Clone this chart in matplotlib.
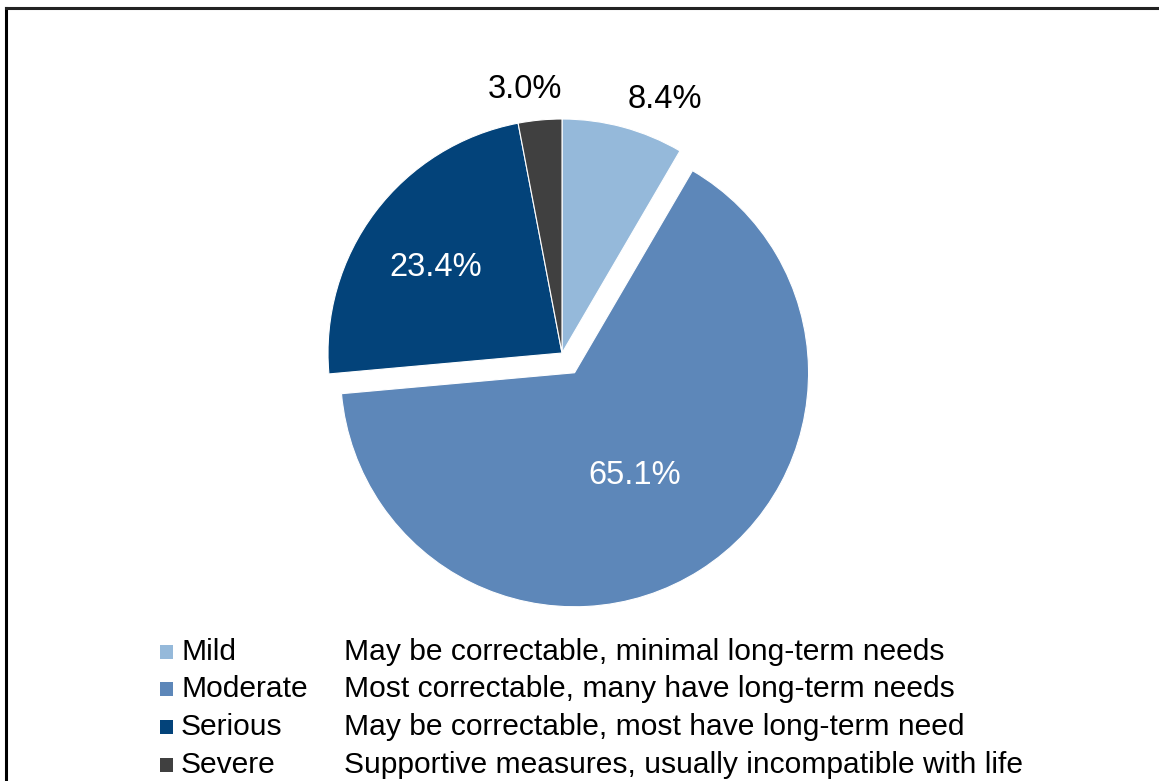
import matplotlib.pyplot as plt
import numpy as np
from matplotlib.patches import Rectangle
from matplotlib.lines import Line2D

plt.rcParams['font.family'] = ['Liberation Sans', 'DejaVu Sans']

categories = ['Mild', 'Moderate', 'Serious', 'Severe']
descriptions = ['May be correctable, minimal long-term needs',
                'Most correctable, many have long-term needs',
                'May be correctable, most have long-term need',
                'Supportive measures, usually incompatible with life']
shares = [8.4, 65.1, 23.4, 3.0]
colors = ['#95b9da', '#5d87b9', '#03437a', '#404040']
explode = [0, 0.1, 0, 0]
# label placement: distance from centre (radii) and angular nudge (deg)
label_dist = [1.17, 0.51, 0.65, 1.135]
label_turn = [-7, -2, 3, 2.6]
label_color = ['black', 'white', 'white', 'black']

W, H = 1159, 781
fig = plt.figure(figsize=(W / 100, H / 100), dpi=100)

# square axes so that radius 1 is ~234 px, centred on (562, 353)
side = 600
cx, cy = 562, 353
ax = fig.add_axes([(cx - side / 2) / W, (H - cy - side / 2) / H, side / W, side / H])

wedges, _ = ax.pie(shares, colors=colors, explode=explode, startangle=90,
                   counterclock=False, radius=1,
                   wedgeprops=dict(edgecolor='white', linewidth=0.8))
lim = side / 2 / 234
ax.set_xlim(-lim, lim)
ax.set_ylim(-lim, lim)
ax.set_aspect('equal')
ax.axis('off')

for w, v, d, t, c in zip(wedges, shares, label_dist, label_turn, label_color):
    mid = np.deg2rad((w.theta1 + w.theta2) / 2)
    ang = mid + np.deg2rad(t)
    x0, y0 = w.center
    ax.text(x0 + d * np.cos(ang), y0 + d * np.sin(ang), f'{v:.1f}%',
            ha='center', va='center', fontsize=23.5, color=c)

# legend rows at the bottom
row_y = [652, 689, 727, 765]
for name, desc, col, y in zip(categories, descriptions, colors, row_y):
    fig.patches.append(Rectangle((160 / W, (H - y - 7) / H), 13 / W, 14 / H,
                                 transform=fig.transFigure, facecolor=col,
                                 edgecolor='none'))
    fig.text(181 / W, (H - y) / H, name, fontsize=21.6, va='center', ha='left')
    fig.text(344 / W, (H - y) / H, desc, fontsize=21.6, va='center', ha='left')

# frame along the top and left edges
fig.add_artist(Line2D([6 / W, 6 / W], [0, (H - 8) / H], color='black', lw=2.2,
                      transform=fig.transFigure))
fig.add_artist(Line2D([6 / W, 1], [(H - 8) / H, (H - 8) / H], color='#222222', lw=2.2,
                      transform=fig.transFigure))

fig.savefig('out.png', dpi=100, facecolor='white')
